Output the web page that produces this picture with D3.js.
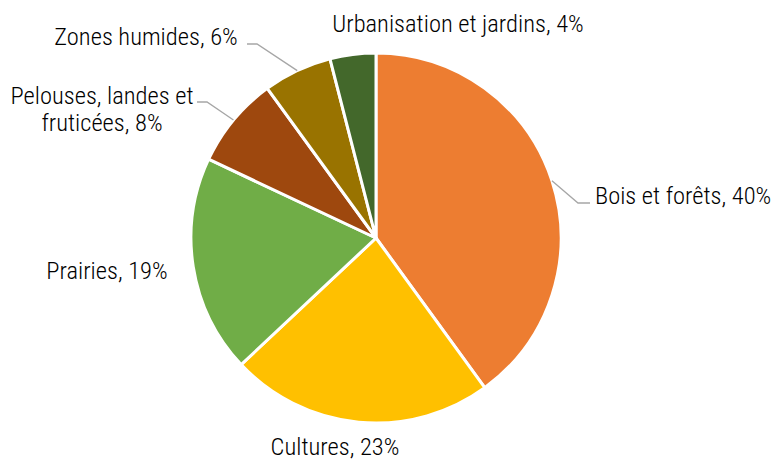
<!DOCTYPE html>
<html>
<head>
<meta charset="utf-8">
<script src="https://cdn.jsdelivr.net/npm/d3@7"></script>
<style>
  html, body { margin: 0; padding: 0; background: #fff; }
  svg { display: block; }
  text { font-family: "Roboto Condensed", "Liberation Sans Narrow", sans-serif; font-size: 24.5px; font-weight: 350; fill: #000; }
</style>
</head>
<body>
<svg id="chart" width="776" height="462"></svg>
<script>
// Land cover shares (percent)
const categories = ["Bois et forêts", "Cultures", "Prairies", "Pelouses, landes et fruticées", "Zones humides", "Urbanisation et jardins"];
const values = [40, 23, 19, 8, 6, 4];
const colors = ["#ED7D31", "#FFC000", "#70AD47", "#9E480E", "#997300", "#43682B"];

const width = 776, height = 462;
const cx = 376, cy = 238, radius = 185;

const svg = d3.select("#chart");
const g = svg.append("g").attr("transform", `translate(${cx},${cy})`);

const pie = d3.pie().sort(null).value(d => d.value);
const arc = d3.arc().innerRadius(0).outerRadius(radius);

const data = categories.map((c, i) => ({ name: c, value: values[i], color: colors[i] }));
const arcs = pie(data);

g.selectAll("path.slice")
  .data(arcs)
  .join("path")
  .attr("class", "slice")
  .attr("d", arc)
  .attr("fill", d => d.data.color)
  .attr("stroke", "#fff")
  .attr("stroke-width", 3)
  .attr("stroke-linejoin", "round");

// Label placement, relative to the pie centre: text anchor point, optional wrap, leader elbow and end
const layout = [
  { x: 219, y: -34, anchor: "start", elbow: [202, -35], end: [214, -35] },
  { x: -41, y: 217, anchor: "middle" },
  { x: -269, y: 41, anchor: "middle" },
  { x: -274, y: -134, anchor: "middle", wrap: ["Pelouses, landes et", "fruticées"], elbow: [-169, -136], end: [-179, -136] },
  { x: -230, y: -193, anchor: "middle", elbow: [-119, -194], end: [-129, -194] },
  { x: 82, y: -206, anchor: "middle" }
];

const fmt = d => `${d.data.name}, ${d.data.value}%`;

arcs.forEach((d, i) => {
  const L = layout[i];
  if (L.elbow) {
    const mid = (d.startAngle + d.endAngle) / 2;
    const sx = radius * Math.sin(mid), sy = -radius * Math.cos(mid);
    g.append("polyline")
      .attr("points", [[sx, sy], L.elbow, L.end].map(p => p.join(",")).join(" "))
      .attr("fill", "none")
      .attr("stroke", "#A6A6A6")
      .attr("stroke-width", 1.3);
  }
  const t = g.append("text").attr("text-anchor", L.anchor);
  if (L.wrap) {
    t.append("tspan").attr("x", L.x).attr("y", L.y).text(L.wrap[0]);
    t.append("tspan").attr("x", L.x).attr("y", L.y + 27).text(`${L.wrap[1]}, ${d.data.value}%`);
  } else {
    t.attr("x", L.x).attr("y", L.y).text(fmt(d));
  }
});
</script>
</body>
</html>
